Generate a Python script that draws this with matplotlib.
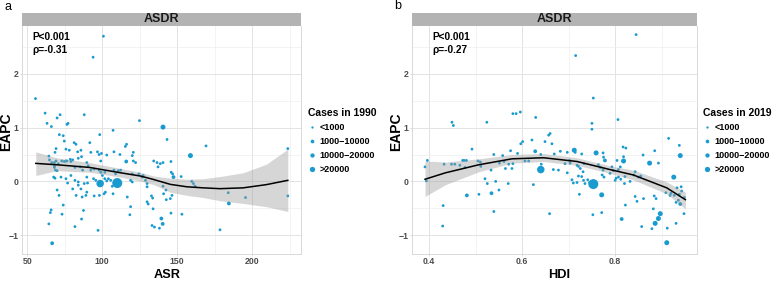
import matplotlib
matplotlib.use("Agg")
import matplotlib.pyplot as plt
from matplotlib.lines import Line2D
from matplotlib.patches import Rectangle
import numpy as np

plt.rcParams['font.family'] = ['Liberation Sans', 'DejaVu Sans']

# ---- panel a: ASR vs EAPC (cases in 1990) ----
# size class: 1 <1000, 2 1000-10000, 3 10000-20000, 4/5 >20000
asr = [100.8, 93.9, 55.5, 61.9, 71.9, 88.0, 69.9, 63.2, 77.2, 76.5, 66.1, 124.8, 140.5, 107.2, 71.4, 74.0, 98.3,
       143.2, 74.7, 91.7, 81.3, 82.5, 116.2, 115.4, 169.2, 75.8, 78.0, 85.8, 83.6, 69.2, 68.5, 92.4, 96.8, 97.9,
       99.5, 103.0, 107.8, 111.8, 120.7, 120.0, 158.8, 86.2, 84.0, 78.7, 75.8, 69.2, 68.1, 64.4, 64.8, 70.7, 73.0,
       74.7, 76.5, 79.1, 80.3, 89.7, 90.6, 99.0, 116.0, 120.7, 122.2, 134.3, 136.5, 138.7, 140.5, 145.8, 137.2,
       66.3, 68.1, 68.1, 68.8, 69.9, 81.8, 85.3, 86.9, 92.4, 94.6, 97.9, 99.0, 101.7, 107.8, 108.9, 110.7, 112.3,
       120.0, 124.4, 127.3, 146.0, 146.9, 152.6, 147.5, 159.7, 160.8, 161.9, 67.6, 68.5, 72.5, 75.8, 79.1, 81.8,
       84.0, 88.0, 90.2, 89.7, 94.2, 95.7, 100.1, 101.7, 103.0, 98.6, 110.0, 106.7, 104.1, 105.6, 118.9, 120.0,
       126.6, 128.8, 129.9, 129.9, 140.5, 142.5, 140.9, 132.8, 133.6, 129.9, 130.6, 133.9, 146.5, 145.4, 145.8,
       142.7, 153.1, 139.4, 140.3, 133.2, 134.8, 138.1, 118.4, 116.7, 118.9, 101.2, 107.2, 98.1, 89.7, 89.1, 94.6,
       84.0, 85.8, 69.9, 71.2, 80.3, 74.0, 73.2, 65.9, 65.4, 64.4, 86.2, 87.5, 81.8, 97.2, 66.6, 178.5, 184.0,
       184.4, 195.5, 223.7, 223.7, 76.9, 82.6, 86.6, 102.1]
eapc_a = [2.70, 2.31, 1.54, 1.27, 1.24, 1.24, 1.18, 1.08, 1.08, 1.06, 1.02, 1.13, 1.01, 0.95, 0.87, 0.85, 0.87,
          0.78, 0.75, 0.72, 0.72, 0.69, 0.69, 0.65, 0.66, 0.60, 0.58, 0.58, 0.55, 0.61, 0.54, 0.54, 0.55, 0.50,
          0.52, 0.49, 0.55, 0.50, 0.54, 0.48, 0.48, 0.46, 0.43, 0.41, 0.38, 0.38, 0.35, 0.47, 0.40, 0.33, 0.38,
          0.37, 0.38, 0.37, 0.40, 0.35, 0.29, 0.38, 0.37, 0.38, 0.35, 0.38, 0.35, 0.33, 0.35, 0.37, 0.27,
          0.35, 0.29, 0.26, 0.21, 0.20, 0.26, 0.27, 0.21, 0.21, 0.23, 0.21, 0.17, 0.17, 0.21, 0.14, 0.20, 0.21,
          0.14, 0.14, 0.11, 0.17, 0.14, 0.09, 0.08, 0.00, -0.04, -0.09, 0.08, 0.06, 0.08, 0.05, 0.11, 0.02,
          -0.01, -0.04, -0.03, 0.08, 0.05, 0.02, 0.11, 0.05, 0.01, -0.04, -0.03, -0.09, 0.05, 0.02, 0.02, -0.01,
          0.08, 0.02, -0.04, -0.10, -0.09, -0.16, -0.23, -0.27, -0.31, -0.38, -0.42, -0.51, -0.26, -0.32, -0.59,
          -0.34, -0.61, -0.69, -0.79, -0.82, -0.85, -0.87, -0.62, -0.29, -0.47, -0.23, -0.23, -0.26, -0.20, -0.26, -0.27,
          -0.07, -0.14, -0.16, -0.26, -0.14, -0.44, -0.61, -0.53, -0.58, -0.79, -0.70, -0.54, -0.84, -0.91, -1.15, -0.90, -0.21,
          -0.41, -0.30, 0.61, -0.27, -0.03, -0.26, -0.29, -0.20]
size_a = [1, 1, 1, 1, 1, 1, 1, 1, 1, 1, 1, 1, 3, 1, 1, 1, 1,
          1, 1, 1, 1, 1, 1, 1, 1, 1, 1, 1, 1, 1, 1, 1, 1, 1,
          1, 1, 1, 1, 1, 1, 3, 1, 1, 1, 1, 1, 1, 1, 1, 1, 1,
          1, 1, 1, 1, 1, 1, 1, 2, 1, 1, 1, 1, 1, 1, 1, 1,
          1, 1, 1, 1, 1, 1, 1, 1, 1, 1, 1, 1, 1, 1, 1, 1, 1,
          1, 1, 1, 1, 1, 1, 2, 1, 1, 1, 1, 1, 1, 1, 1, 1,
          1, 1, 1, 1, 1, 1, 1, 1, 1, 4, 5, 1, 1, 1, 1, 1,
          1, 1, 1, 1, 1, 1, 1, 1, 1, 1, 1, 1, 1, 1, 1,
          1, 1, 2, 2, 1, 1, 1, 1, 1, 1, 1, 1, 1, 1, 1, 1,
          1, 1, 1, 1, 1, 1, 1, 1, 1, 1, 1, 1, 1, 1, 2, 1, 1,
          2, 1, 1, 1, 1, 1, 1, 1]

# loess fit
fit_a_x = [55.7, 69.4, 91.5, 112.3, 125.5, 134.3, 145.4, 156.4, 167.4, 178.5, 193.9, 209.4, 223.7]
fit_a_y = [0.335, 0.31, 0.26, 0.16, 0.10, 0.035, -0.055, -0.10, -0.12, -0.135, -0.12, -0.06, 0.02]
fit_a_lo = [0.11, 0.20, 0.17, 0.08, 0.005, -0.06, -0.20, -0.26, -0.30, -0.36, -0.41, -0.47, -0.56]
fit_a_hi = [0.55, 0.44, 0.35, 0.24, 0.17, 0.10, 0.06, 0.04, 0.05, 0.09, 0.16, 0.32, 0.60]

# ---- panel b: HDI vs EAPC (cases in 2019) ----
hdi = [0.845, 0.715, 0.753, 0.449, 0.452, 0.524, 0.580, 0.587, 0.596, 0.629, 0.750, 0.750, 0.806, 0.657, 0.660, 0.915,
       0.492, 0.396, 0.391, 0.394, 0.432, 0.448, 0.455, 0.466, 0.475, 0.480, 0.477, 0.505, 0.510, 0.511, 0.539, 0.558,
       0.575, 0.533, 0.551, 0.561, 0.564, 0.571, 0.578, 0.520, 0.525, 0.543, 0.481, 0.507, 0.534, 0.550, 0.570, 0.430,
       0.539, 0.429,
       0.649, 0.664, 0.621, 0.601, 0.597, 0.590, 0.628, 0.640, 0.669, 0.682, 0.697, 0.712, 0.714, 0.728, 0.759, 0.774,
       0.775, 0.778, 0.606, 0.614, 0.580, 0.641, 0.640, 0.667, 0.678, 0.692, 0.702, 0.703, 0.697, 0.707, 0.710, 0.718,
       0.721, 0.725, 0.731, 0.733, 0.728, 0.732, 0.735, 0.741, 0.745, 0.753, 0.764, 0.768, 0.771, 0.723, 0.624, 0.659,
       0.752, 0.771, 0.721, 0.718, 0.472,
       0.938, 0.817, 0.823, 0.885, 0.860, 0.940, 0.804, 0.818, 0.818, 0.874, 0.893, 0.811, 0.807, 0.793, 0.796, 0.789,
       0.774, 0.772, 0.776, 0.802, 0.807, 0.800, 0.812, 0.821, 0.843, 0.840, 0.850, 0.855, 0.832, 0.820, 0.926, 0.933,
       0.942, 0.943, 0.938, 0.927, 0.918, 0.949, 0.936, 0.940, 0.931, 0.948, 0.909, 0.920, 0.884, 0.888, 0.843, 0.847,
       0.861, 0.882, 0.822, 0.897, 0.893, 0.886, 0.912, 0.931, 0.879, 0.857, 0.814, 0.911]
eapc_b = [2.73, 2.34, 1.55, 1.10, 1.04, 1.10, 1.26, 1.26, 1.29, 1.19, 1.08, 0.97, 1.15, 0.86, 0.89, 0.80,
          0.60, 0.39, 0.27, 0.01, 0.32, 0.32, 0.32, 0.30, 0.39, 0.39, 0.26, 0.38, 0.36, 0.28, 0.50, 0.48,
          0.57, 0.21, 0.34, 0.37, 0.24, 0.32, 0.24, 0.05, -0.04, 0.00, -0.26, -0.24, -0.22, -0.16, -0.04, -0.45,
          -0.56, -0.83,
          0.74, 0.70, 0.77, 0.74, 0.70, 0.52, 0.56, 0.50, 0.51, 0.56, 0.54, 0.58, 0.54, 0.51, 0.53, 0.53,
          0.45, 0.39, 0.38, 0.38, 0.33, 0.32, 0.22, 0.22, 0.21, 0.33, 0.39, 0.34, 0.16, 0.03, -0.03, 0.30,
          0.28, 0.24, 0.18, 0.33, 0.09, 0.02, -0.04, 0.03, -0.02, -0.05, 0.31, 0.26, -0.25, -0.24, -0.06, -0.60,
          -0.62, -0.58, 0.10, -0.02, 0.39,
          0.67, 0.64, 0.62, 0.57, 0.49, 0.48, 0.39, 0.38, 0.46, 0.34, 0.34, 0.27, 0.22, 0.27, 0.20, 0.15,
          0.21, 0.12, 0.08, 0.06, 0.08, 0.02, 0.04, 0.09, 0.18, 0.12, 0.08, 0.10, 0.00, -0.04, 0.08, -0.12,
          -0.10, -0.18, -0.24, -0.26, -0.26, -0.30, -0.35, -0.42, -0.39, -0.60, -0.21, -0.22, -0.27, -0.32, -0.28, -0.37,
          -0.32, -0.51, -0.44, -0.60, -0.69, -0.78, -0.87, -0.78, -0.88, -0.84, -0.70, -1.14]
size_b = [1, 1, 1, 1, 1, 1, 1, 1, 1, 1, 1, 1, 1, 1, 1, 1,
          1, 1, 1, 1, 1, 1, 1, 1, 1, 1, 1, 1, 1, 1, 1, 1,
          1, 1, 1, 1, 1, 1, 1, 1, 1, 1, 2, 1, 2, 1, 1, 1,
          1, 1,
          1, 1, 1, 1, 1, 1, 2, 1, 1, 1, 1, 3, 1, 1, 3, 1,
          1, 2, 1, 1, 1, 1, 4, 1, 1, 1, 1, 1, 1, 1, 1, 1,
          1, 1, 1, 1, 1, 1, 1, 1, 1, 5, 1, 1, 3, 1, 1, 1,
          1, 1, 1, 1, 1,
          1, 1, 1, 1, 1, 3, 1, 3, 1, 3, 1, 1, 1, 1, 1, 1,
          1, 1, 1, 1, 1, 1, 1, 1, 1, 1, 1, 1, 1, 1, 3, 1,
          1, 1, 1, 1, 1, 1, 1, 2, 1, 1, 1, 1, 1, 1, 1, 1,
          1, 1, 1, 3, 3, 3, 1, 1, 1, 1, 2, 3]

fit_b_x = [0.391, 0.435, 0.507, 0.578, 0.646, 0.718, 0.789, 0.839, 0.911, 0.951]
fit_b_y = [0.04, 0.16, 0.31, 0.42, 0.44, 0.37, 0.22, 0.12, -0.12, -0.34]
fit_b_lo = [-0.28, -0.06, 0.18, 0.34, 0.37, 0.30, 0.15, 0.03, -0.23, -0.51]
fit_b_hi = [0.38, 0.36, 0.42, 0.50, 0.52, 0.44, 0.29, 0.21, -0.01, -0.20]

legend_labels = ['<1000', '1000\u221210000', '10000\u221220000', '>20000']

POINT_COLOR = '#1a9bd0'
TICK_COLOR = '#4d4d4d'
SIZE_PX = {1: 2.8, 2: 3.8, 3: 5.0, 4: 7.5, 5: 10.0}
LEGEND_PX = [2.3, 3.7, 4.3, 5.3]

W, H = 777, 281
PANEL_TOP, PANEL_BOTTOM = 26, 254
fig = plt.figure(figsize=(W / 100, H / 100), dpi=100)


def fx(px):
    return px / W


def fy(py):
    return 1 - py / H


def draw_panel(left, right, x, y, sizes, fit_x, fit_y, fit_lo, fit_hi,
               xlim, xticks, xminor, xticklabels, xlabel, xlabel_px, stats, stats_x,
               legend_title, legend_x):
    top, bottom = PANEL_TOP, PANEL_BOTTOM
    ax = fig.add_axes([fx(left), fy(bottom), fx(right - left), (bottom - top) / H])
    s = [(SIZE_PX[k] * 0.72) ** 2 for k in sizes]
    ax.scatter(x, y, s=s, c=POINT_COLOR, linewidths=0, zorder=3)
    ax.fill_between(fit_x, fit_lo, fit_hi, color='#999999', alpha=0.4, linewidth=0, zorder=4)
    ax.plot(fit_x, fit_y, color='black', lw=1.1, zorder=5)

    ax.set_xlim(*xlim)
    ax.set_ylim(-1.35, 2.89)
    ax.set_xticks(xticks)
    ax.set_xticklabels(xticklabels)
    ax.set_xticks(xminor, minor=True)
    ax.set_yticks([-1, 0, 1, 2])
    ax.set_yticklabels(['\u22121', '0', '1', '2'])
    ax.set_yticks([-0.5, 0.5, 1.5, 2.5], minor=True)
    ax.grid(True, which='major', color='#e3e3e3', lw=0.7, zorder=0)
    ax.grid(True, which='minor', color='#eeeeee', lw=0.5, zorder=0)
    ax.set_axisbelow(True)
    ax.tick_params(which='major', length=1.5, width=0.5, color='#cccccc',
                   labelsize=6.3, labelcolor=TICK_COLOR, pad=1)
    ax.tick_params(which='minor', length=0)
    for lab in ax.get_xticklabels() + ax.get_yticklabels():
        lab.set_fontweight('bold')
    for sp in ax.spines.values():
        sp.set_color('#d9d9d9')
        sp.set_linewidth(0.7)
    ax.spines['top'].set_visible(False)

    # facet strip
    strip_h = 13 / (bottom - top)
    ax.add_patch(Rectangle((0, 1), 1, strip_h, transform=ax.transAxes,
                           facecolor='#b3b3b3', edgecolor='none', clip_on=False))
    ax.text(0.5, 1 + strip_h / 2, 'ASDR', transform=ax.transAxes, ha='center', va='center',
            fontsize=9, fontweight='bold', color='#1a1a1a')

    ax.text((stats_x - left) / (right - left), 0.975, stats, transform=ax.transAxes,
            ha='left', va='top', fontsize=7.3, fontweight='bold', linespacing=1.4)

    fig.text(fx(xlabel_px), 0.001, xlabel, ha='center', va='bottom',
             fontsize=9.2, fontweight='bold')

    handles = [Line2D([], [], marker='o', ls='', color=POINT_COLOR, markeredgewidth=0,
                      markersize=d * 0.72) for d in LEGEND_PX]
    fig.legend(handles, legend_labels, title=legend_title, loc='upper left',
               bbox_to_anchor=(fx(legend_x), fy(108)), frameon=False,
               borderpad=0, borderaxespad=0, handlelength=0.9, handletextpad=0.4,
               labelspacing=0.55, prop={'size': 6.5, 'weight': 'bold'},
               title_fontproperties={'size': 7.5, 'weight': 'bold'}, alignment='left')
    return ax


draw_panel(22, 301, asr, eapc_a, size_a, fit_a_x, fit_a_y, fit_a_lo, fit_a_hi,
           (46.5, 232.5), [50, 100, 150, 200], [75, 125, 175, 225], ['50', '100', '150', '200'],
           'ASR', 167, 'P<0.001\n\u03c1=-0.31', 32, 'Cases in 1990', 308)
draw_panel(412, 697, hdi, eapc_b, size_b, fit_b_x, fit_b_y, fit_b_lo, fit_b_hi,
           (0.363, 0.976), [0.4, 0.6, 0.8], [0.5, 0.7, 0.9], ['0.4', '0.6', '0.8'],
           'HDI', 559, 'P<0.001\n\u03c1=-0.27', 432, 'Cases in 2019', 703)

fig.text(fx(6), fy(132), 'EAPC', rotation=90, ha='center', va='center', fontsize=10, fontweight='bold')
fig.text(fx(396), fy(132), 'EAPC', rotation=90, ha='center', va='center', fontsize=10, fontweight='bold')
fig.text(fx(8), fy(7), 'a', ha='center', va='center', fontsize=9)
fig.text(fx(398), fy(6), 'b', ha='center', va='center', fontsize=9)

fig.savefig('out.png', dpi=100)
